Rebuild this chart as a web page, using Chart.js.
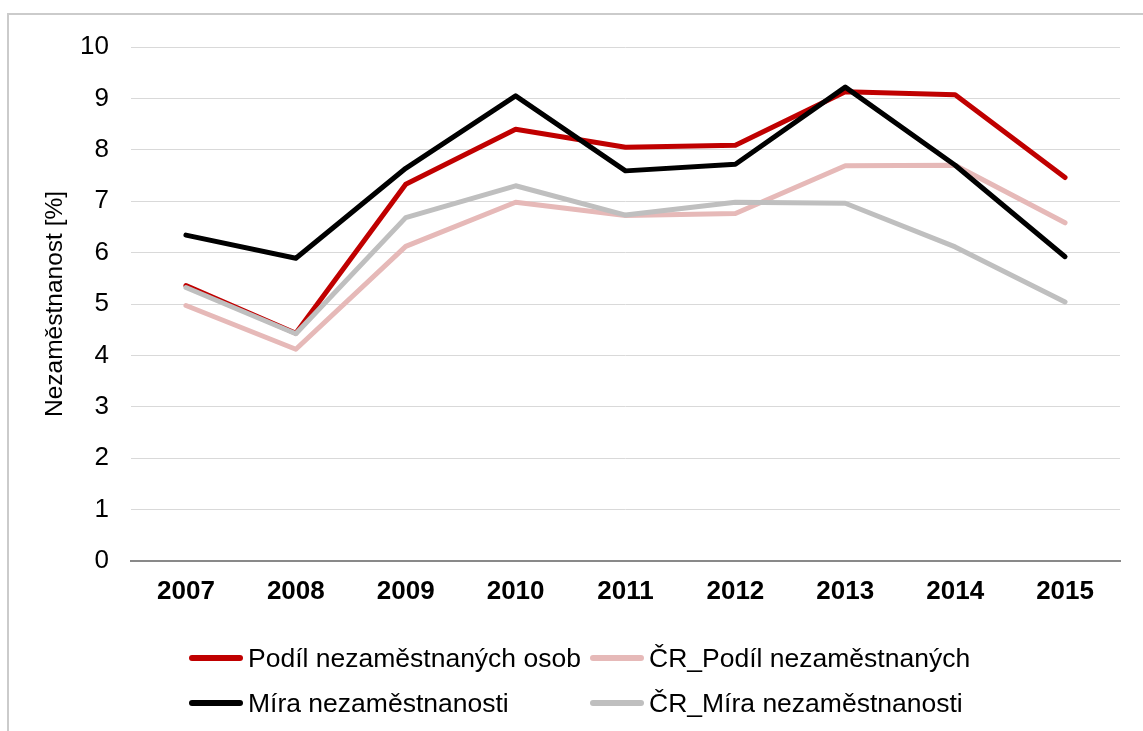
<!DOCTYPE html>
<html>
<head>
<meta charset="utf-8">
<script src="https://cdn.jsdelivr.net/npm/chart.js@4/dist/chart.umd.min.js"></script>
<style>
  html, body { margin: 0; padding: 0; background: #fff; }
  body { width: 1143px; height: 731px; position: relative; overflow: hidden; font-family: "Liberation Sans", Arial, sans-serif; }
  #frame { position: absolute; left: 7px; top: 13px; width: 1200px; height: 800px; border: 2px solid #cbcbcb; box-sizing: border-box; }
  #wrap { position: absolute; left: 0; top: 0; width: 1143px; height: 731px; }
  #legend { position: absolute; left: 0; top: 0; width: 1143px; height: 731px; pointer-events: none; }
  .item { position: absolute; height: 30px; display: flex; align-items: center; font-size: 26.5px; color: #000; white-space: nowrap; }
  .swatch { display: inline-block; width: 54px; height: 6px; border-radius: 3px; margin-right: 5px; }
</style>
</head>
<body>
<div id="frame"></div>
<div id="wrap"><canvas id="c" width="1143" height="731"></canvas></div>
<div id="legend"></div>
<script>
const categories = ["2007", "2008", "2009", "2010", "2011", "2012", "2013", "2014", "2015"];
const seriesNames = ["Podíl nezaměstnaných osob", "ČR_Podíl nezaměstnaných", "Míra nezaměstnanosti", "ČR_Míra nezaměstnanosti"];
const podil = [5.36, 4.43, 7.33, 8.40, 8.05, 8.09, 9.13, 9.07, 7.46];
const crPodil = [4.97, 4.12, 6.12, 6.98, 6.72, 6.76, 7.69, 7.70, 6.58];
const mira = [6.34, 5.89, 7.64, 9.05, 7.59, 7.72, 9.22, 7.70, 5.92];
const crMira = [5.32, 4.42, 6.68, 7.30, 6.73, 6.98, 6.96, 6.11, 5.04];
const yTicks = [0, 1, 2, 3, 4, 5, 6, 7, 8, 9, 10];
const yTitle = "Nezaměstnanost [%]";

const colors = ["#C00000", "#E6B9B8", "#000000", "#BFBFBF"];
const values = [podil, crPodil, mira, crMira];
const drawOrder = [4, 3, 2, 1];
const FONT = "'Liberation Sans', Arial, sans-serif";

const datasets = values.map((v, i) => ({
  label: seriesNames[i],
  data: v,
  borderColor: colors[i],
  backgroundColor: colors[i],
  borderWidth: 5,
  pointRadius: 0,
  pointHoverRadius: 0,
  tension: 0,
  fill: false,
  borderCapStyle: 'round',
  borderJoinStyle: 'round',
  order: drawOrder[i]
}));

new Chart(document.getElementById('c'), {
  type: 'line',
  data: { labels: categories, datasets },
  options: {
    responsive: false,
    animation: false,
    events: [],
    layout: { padding: { left: 0, right: 23, top: 47, bottom: 130 } },
    plugins: { legend: { display: false }, tooltip: { enabled: false } },
    scales: {
      x: {
        offset: true,
        grid: { display: false, drawTicks: false, offset: true },
        border: { display: true, color: '#898989', width: 2 },
        ticks: { color: '#000', font: { family: FONT, size: 26, weight: 'bold' }, padding: 15, maxRotation: 0 },
        afterFit: s => { s.height = 40; }
      },
      y: {
        min: 0, max: 10,
        afterBuildTicks: s => { s.ticks = yTicks.map(v => ({ value: v })); },
        grid: { color: '#d9d9d9', lineWidth: 1, drawTicks: false },
        border: { display: false },
        ticks: { color: '#000', font: { family: FONT, size: 26 }, padding: 22 },
        title: { display: true, text: yTitle, color: '#000', font: { family: FONT, size: 24.5 }, padding: { top: 41, bottom: 0 } },
        afterFit: s => { s.width = 131; }
      }
    }
  }
});

// HTML legend (2 columns, 2 rows)
const legendPos = [
  { left: 189, top: 643 },
  { left: 590, top: 643 },
  { left: 189, top: 688 },
  { left: 590, top: 688 }
];
const legend = document.getElementById('legend');
seriesNames.forEach((name, i) => {
  const it = document.createElement('div');
  it.className = 'item';
  it.style.left = legendPos[i].left + 'px';
  it.style.top = legendPos[i].top + 'px';
  const sw = document.createElement('span');
  sw.className = 'swatch';
  sw.style.background = colors[i];
  const tx = document.createElement('span');
  tx.textContent = name;
  it.appendChild(sw);
  it.appendChild(tx);
  legend.appendChild(it);
});
</script>
</body>
</html>
